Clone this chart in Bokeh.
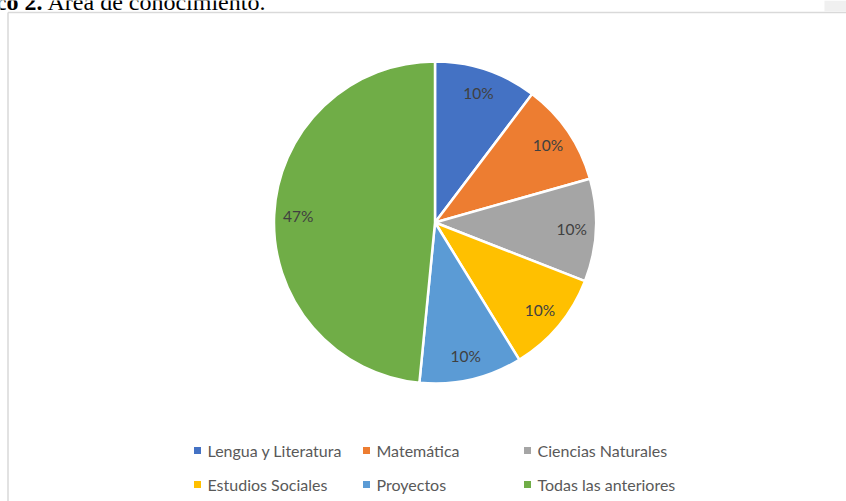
import math
from bokeh.plotting import figure
from bokeh.models import Range1d, ColumnDataSource
from bokeh.core.properties import value
from bokeh.embed import file_html
from bokeh.resources import INLINE

# ---- data ----
categories = ["Lengua y Literatura", "Matemática", "Ciencias Naturales",
              "Estudios Sociales", "Proyectos", "Todas las anteriores"]
values = [10, 10, 10, 10, 10, 47]
colors = ["#4472C4", "#ED7D31", "#A5A5A5", "#FFC000", "#5B9BD5", "#70AD47"]
caption_bold = "Gráfico 2."
caption_text = "Área de conocimiento."

W, H = 846, 501
p = figure(width=W, height=H, output_backend="svg", toolbar_location=None,
           x_range=Range1d(0, W), y_range=Range1d(0, H),
           min_border=0, outline_line_color=None, background_fill_color="white",
           border_fill_color="white")
p.margin = (0, 0, 0, 0)
p.axis.visible = False
p.grid.visible = False

def Y(y):  # page y -> data y
    return H - y

# frame of the chart area
p.segment(x0=[7.5], y0=[Y(12)], x1=[W], y1=[Y(12)], line_color="#d9d9d9", line_width=1.5)
p.segment(x0=[7.5], y0=[Y(12)], x1=[7.5], y1=[0], line_color="#d9d9d9", line_width=1.5)
p.quad(left=[824], right=[W], top=[Y(0)], bottom=[Y(11)], fill_color="#f0f0f0", line_color=None)

# caption (cut off at the top, as in the source)
p.text(x=[42], y=[Y(1.5)], text=[caption_bold], text_font=value("Liberation Serif"),
       text_font_size="24px", text_font_style="bold", text_align="right",
       text_baseline="alphabetic", text_color="black")
p.text(x=[47], y=[Y(1.5)], text=[caption_text], text_font=value("Liberation Serif"),
       text_font_size="24px", text_align="left",
       text_baseline="alphabetic", text_color="black")

# pie
cx, cy, R = 434.5, Y(222), 161
total = sum(values)
starts, ends, lx, ly, labels = [], [], [], [], []
cum = 0.0
for v in values:
    a0 = math.pi / 2 - cum / total * 2 * math.pi
    cum += v
    a1 = math.pi / 2 - cum / total * 2 * math.pi
    starts.append(a0)
    ends.append(a1)
    mid = (a0 + a1) / 2
    lx.append(cx + 0.85 * R * math.cos(mid))
    ly.append(cy + 0.85 * R * math.sin(mid))
    labels.append(f"{v}%")

src = ColumnDataSource(dict(start=starts, end=ends, color=colors))
p.wedge(x=cx, y=cy, radius=R, start_angle="start", end_angle="end",
        direction="clock", fill_color="color", line_color="white",
        line_width=2.5, source=src)

p.text(x=lx, y=ly, text=labels, text_font=value("Lato"), text_font_size="15.5px",
       text_align="center", text_baseline="middle", text_color="#404040")

# legend (3 columns x 2 rows)
col_x = [197, 366, 527]
row_y = [450, 484]
mx, my, tx, ty = [], [], [], []
for i, c in enumerate(categories):
    r, k = divmod(i, 3)
    mx.append(col_x[k])
    my.append(Y(row_y[r]))
    tx.append(col_x[k] + 10)
    ty.append(Y(row_y[r]))
p.rect(x=mx, y=my, width=7, height=7, fill_color=colors, line_color=None)
p.text(x=tx, y=ty, text=categories, text_font=value("Lato"), text_font_size="16px",
       text_align="left", text_baseline="middle", text_color="#595959")

open("out.html", "w").write(file_html(p, INLINE))
